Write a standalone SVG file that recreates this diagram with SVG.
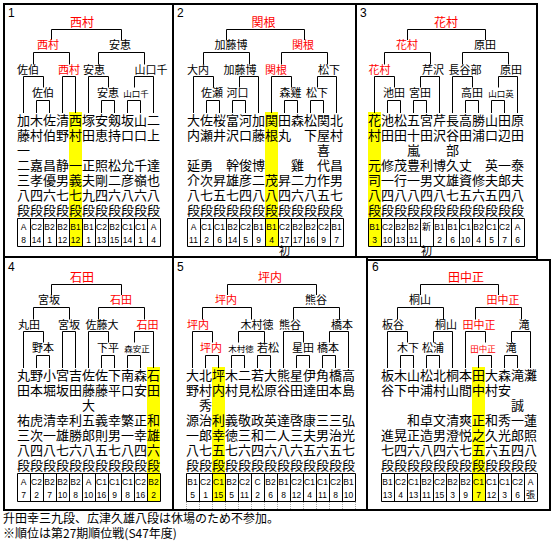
<svg xmlns="http://www.w3.org/2000/svg" width="555" height="541" viewBox="0 0 555 541">
<style>
text{font-family:"Noto Sans CJK JP","Noto Sans CJK SC",sans-serif}
.fr{fill:none;stroke:#000;stroke-width:2}
.ln{fill:none;stroke:#000;stroke-width:1}
.lb{font-size:11px;text-anchor:middle}
.tp{font-size:12px}
.sm{font-size:8.5px}
.r{fill:#f00}
.nm{font-size:13px;text-anchor:middle}
.bx{fill:none;stroke:#000;stroke-width:1}
.cl{font-family:"Liberation Sans",Arial,sans-serif;font-size:8.5px;text-anchor:middle}
.hl{fill:#ff0}
.no{font-family:"Liberation Sans",Arial,sans-serif;font-size:12px}
.nt{font-size:12px}
.sh{font-size:11px;text-anchor:middle}
.dt{stroke:#aaa;stroke-width:1;stroke-dasharray:1 1;fill:none}
</style>
<rect width="555" height="541" fill="#fff"/>

<g id="frames">
<path class="fr" d="M3,4H538M3,257H538M4,3V258M173,3V510M356,3V258M537,3V259M3,510H551M4,257V511M367,257V511M366,260H551M550,259V511"/>
</g>

<g id="panel1">
<text class="no" x="8" y="17">1</text>
<rect class="hl" x="69" y="112" width="13" height="135"/>
<g id="p1-connectors" class="ln">
<path d="M51.5,40V29.5H121.5V40M33.5,64.5V52.5H69.5V64.5M98.5,64.5V52.5H144.5V64.5M23.5,113V76.5H43.5V87.5M62.5,113V76.5H75.5V113M88.5,113V76.5H108.5V87.5M134.5,87.5V76.5H153.5V113M36.5,113V100.5H49.5V113M101.5,113V100.5H114.5V113M127.5,113V100.5H140.5V113"/>
</g>
<text class="lb tp r" x="82" y="27">西村</text>
<text class="lb r" x="48" y="48.5">西村</text>
<text class="lb" x="120" y="48.5">安恵</text>
<text class="lb" x="28" y="73.5">佐伯</text>
<text class="lb r" x="69" y="73.5">西村</text>
<text class="lb" x="94" y="73.5">安恵</text>
<text class="lb" x="151" y="73.5">山口千</text>
<text class="lb" x="43" y="97">佐伯</text>
<text class="lb" x="108" y="97">安恵</text>
<text class="lb sm" x="136" y="97">山口千</text>
<text class="nm" x="23.5 36.5 49.5 62.5 75.5 88.5 101.5 114.5 127.5 140.5 153.5" y="124.5">加木佐清西塚安剱坂山二</text>
<text class="nm" x="23.5 36.5 49.5 62.5 75.5 88.5 101.5 114.5 127.5 140.5 153.5" y="139.5">藤村伯野村田恵持口口上</text>
<text class="nm" x="23.5" y="154.5">一</text>
<text class="nm" x="23.5 36.5 49.5 62.5 75.5 88.5 101.5 114.5 127.5 140.5 153.5" y="169.5">二嘉昌静一正照松允千達</text>
<text class="nm" x="23.5 36.5 49.5 62.5 75.5 88.5 101.5 114.5 127.5 140.5 153.5" y="184.5">三孝優男義夫剛二彦嶺也</text>
<text class="nm" x="23.5 36.5 49.5 62.5 75.5 88.5 101.5 114.5 127.5 140.5 153.5" y="199.5">八四六七七九四六八六八</text>
<text class="nm" x="23.5 36.5 49.5 62.5 75.5 88.5 101.5 114.5 127.5 140.5 153.5" y="214.5">段段段段段段段段段段段</text>
<path class="bx" d="M17.5,218.5H160.5V246.5H17.5ZM30.5,218.5V246.5M43.5,218.5V246.5M56.5,218.5V246.5M69.5,218.5V246.5M82.5,218.5V246.5M95.5,218.5V246.5M108.5,218.5V246.5M121.5,218.5V246.5M134.5,218.5V246.5M147.5,218.5V246.5"/>
<text class="cl" y="229.5"><tspan x="23.5">A</tspan><tspan x="36.5">C2</tspan><tspan x="49.5">B2</tspan><tspan x="62.5">B2</tspan><tspan x="75.5">B1</tspan><tspan x="88.5">B1</tspan><tspan x="101.5">C2</tspan><tspan x="114.5">B2</tspan><tspan x="127.5">C1</tspan><tspan x="140.5">C1</tspan><tspan x="153.5">A</tspan></text>
<text class="cl" y="242.5"><tspan x="23.5">8</tspan><tspan x="36.5">14</tspan><tspan x="49.5">1</tspan><tspan x="62.5">12</tspan><tspan x="75.5">12</tspan><tspan x="88.5">1</tspan><tspan x="101.5">13</tspan><tspan x="114.5">15</tspan><tspan x="127.5">14</tspan><tspan x="140.5">1</tspan><tspan x="153.5">4</tspan></text>
</g>

<g id="panel2">
<text class="no" x="177" y="17">2</text>
<rect class="hl" x="265" y="112" width="13" height="135"/>
<g id="p2-connectors" class="ln">
<path d="M226.5,40V29.5H304.5V40M203.5,64.5V52.5H249.5V64.5M281.5,64.5V52.5H327.5V64.5M193.5,113V76.5H213.5V87.5M239.5,87.5V76.5H258.5V113M271.5,113V76.5H291.5V87.5M317.5,87.5V76.5H336.5V113M206.5,113V100.5H219.5V113M232.5,113V100.5H245.5V113M284.5,113V100.5H297.5V113M310.5,113V100.5H323.5V113"/>
</g>
<text class="lb tp r" x="263.5" y="27">関根</text>
<text class="lb" x="231" y="48.5">加藤博</text>
<text class="lb r" x="303" y="48.5">関根</text>
<text class="lb" x="198" y="73.5">大内</text>
<text class="lb" x="240" y="73.5">加藤博</text>
<text class="lb r" x="276" y="73.5">関根</text>
<text class="lb" x="329" y="73.5">松下</text>
<text class="lb" x="212" y="97">佐瀬</text>
<text class="lb" x="237.5" y="97">河口</text>
<text class="lb" x="290.5" y="97">森雞</text>
<text class="lb" x="317" y="97">松下</text>
<text class="nm" x="193.5 206.5 219.5 232.5 245.5 258.5 271.5 284.5 297.5 310.5 323.5 336.5" y="124.5">大佐桜富河加関田森松関北</text>
<text class="nm" x="193.5 206.5 219.5 232.5 245.5 258.5 271.5 284.5 297.5 310.5 323.5 336.5" y="139.5">内瀬井沢口藤根丸　下屋村</text>
<text class="nm" x="323.5" y="154.5">喜</text>
<text class="nm" x="193.5 206.5 219.5 232.5 245.5 258.5 271.5 284.5 297.5 310.5 323.5 336.5" y="169.5">延勇　幹俊博　　雞　代昌</text>
<text class="nm" x="193.5 206.5 219.5 232.5 245.5 258.5 271.5 284.5 297.5 310.5 323.5 336.5" y="184.5">介次昇雄彦二茂昇二力作男</text>
<text class="nm" x="193.5 206.5 219.5 232.5 245.5 258.5 271.5 284.5 297.5 310.5 323.5 336.5" y="199.5">八七五七四八八四六八五七</text>
<text class="nm" x="193.5 206.5 219.5 232.5 245.5 258.5 271.5 284.5 297.5 310.5 323.5 336.5" y="214.5">段段段段段段段段段段段段</text>
<path class="bx" d="M187.5,218.5H343.5V246.5H187.5ZM200.5,218.5V246.5M213.5,218.5V246.5M226.5,218.5V246.5M239.5,218.5V246.5M252.5,218.5V246.5M265.5,218.5V246.5M278.5,218.5V246.5M291.5,218.5V246.5M304.5,218.5V246.5M317.5,218.5V246.5M330.5,218.5V246.5"/>
<text class="cl" y="229.5"><tspan x="193.5">A</tspan><tspan x="206.5">C1</tspan><tspan x="219.5">C1</tspan><tspan x="232.5">B2</tspan><tspan x="245.5">C2</tspan><tspan x="258.5">B1</tspan><tspan x="271.5">B1</tspan><tspan x="284.5">C2</tspan><tspan x="297.5">B2</tspan><tspan x="310.5">B2</tspan><tspan x="323.5">C2</tspan><tspan x="336.5">B1</tspan></text>
<text class="cl" y="242.5"><tspan x="193.5">11</tspan><tspan x="206.5">2</tspan><tspan x="219.5">6</tspan><tspan x="232.5">14</tspan><tspan x="245.5">5</tspan><tspan x="258.5">9</tspan><tspan x="271.5">4</tspan><tspan x="284.5">17</tspan><tspan x="297.5">17</tspan><tspan x="310.5">16</tspan><tspan x="323.5">9</tspan><tspan x="336.5">7</tspan></text>
<text class="sh" x="284.5" y="254.5">初</text>
</g>

<g id="panel3">
<text class="no" x="360" y="17">3</text>
<rect class="hl" x="368" y="112" width="13" height="135"/>
<g id="p3-connectors" class="ln">
<path d="M407.5,40V29.5H485.5V40M384.5,64.5V52.5H430.5V64.5M462.5,64.5V52.5H508.5V64.5M374.5,113V76.5H394.5V87.5M420.5,87.5V76.5H439.5V113M452.5,113V76.5H472.5V87.5M498.5,87.5V76.5H517.5V113M387.5,113V100.5H400.5V113M413.5,113V100.5H426.5V113M465.5,113V100.5H478.5V113M491.5,113V100.5H504.5V113"/>
</g>
<text class="lb tp r" x="446" y="27">花村</text>
<text class="lb r" x="407" y="48.5">花村</text>
<text class="lb" x="485" y="48.5">原田</text>
<text class="lb r" x="379.5" y="73.5">花村</text>
<text class="lb" x="433" y="73.5">芹沢</text>
<text class="lb" x="465" y="73.5">長谷部</text>
<text class="lb" x="511" y="73.5">原田</text>
<text class="lb" x="394" y="97">池田</text>
<text class="lb" x="420" y="97">宮田</text>
<text class="lb" x="472" y="97">高田</text>
<text class="lb sm" x="501" y="97">山口英</text>
<text class="nm" x="374.5 387.5 400.5 413.5 426.5 439.5 452.5 465.5 478.5 491.5 504.5 517.5" y="124.5">花池松五宮芹長高勝山田原</text>
<text class="nm" x="374.5 387.5 400.5 413.5 426.5 439.5 452.5 465.5 478.5 491.5 504.5 517.5" y="139.5">村田田十田沢谷田浦口辺田</text>
<text class="nm" x="413.5 452.5" y="154.5">嵐部</text>
<text class="nm" x="374.5 387.5 400.5 413.5 426.5 439.5 452.5 465.5 478.5 491.5 504.5 517.5" y="169.5">元修茂豊利博久丈　英一泰</text>
<text class="nm" x="374.5 387.5 400.5 413.5 426.5 439.5 452.5 465.5 478.5 491.5 504.5 517.5" y="184.5">司一行一男文雄資修夫郎夫</text>
<text class="nm" x="374.5 387.5 400.5 413.5 426.5 439.5 452.5 465.5 478.5 491.5 504.5 517.5" y="199.5">八四八八四八七五六五四八</text>
<text class="nm" x="374.5 387.5 400.5 413.5 426.5 439.5 452.5 465.5 478.5 491.5 504.5 517.5" y="214.5">段段段段段段段段段段段段</text>
<path class="bx" d="M368.5,218.5H524.5V246.5H368.5ZM381.5,218.5V246.5M394.5,218.5V246.5M407.5,218.5V246.5M420.5,218.5V246.5M433.5,218.5V246.5M446.5,218.5V246.5M459.5,218.5V246.5M472.5,218.5V246.5M485.5,218.5V246.5M498.5,218.5V246.5M511.5,218.5V246.5"/>
<text class="cl" y="229.5"><tspan x="374.5">B1</tspan><tspan x="387.5">C2</tspan><tspan x="400.5">B2</tspan><tspan x="413.5">B2</tspan><tspan x="439.5">B1</tspan><tspan x="452.5">B1</tspan><tspan x="465.5">C1</tspan><tspan x="478.5">B2</tspan><tspan x="491.5">C1</tspan><tspan x="504.5">C2</tspan><tspan x="517.5">A</tspan></text>
<text class="sh" x="426.5" y="230" style="font-size:9px">新</text>
<text class="cl" y="242.5"><tspan x="374.5">3</tspan><tspan x="387.5">10</tspan><tspan x="400.5">13</tspan><tspan x="413.5">11</tspan><tspan x="439.5">2</tspan><tspan x="452.5">6</tspan><tspan x="465.5">10</tspan><tspan x="478.5">4</tspan><tspan x="491.5">5</tspan><tspan x="504.5">7</tspan><tspan x="517.5">6</tspan></text>
<text class="sh" x="426.5" y="254.5">初</text>
</g>

<g id="panel4">
<text class="no" x="8" y="271">4</text>
<rect class="hl" x="147" y="367" width="13" height="135"/>
<g id="p4-connectors" class="ln">
<path d="M51.5,295V284.5H121.5V295M33.5,319.5V307.5H69.5V319.5M98.5,319.5V307.5H144.5V319.5M23.5,368V331.5H43.5V342.5M62.5,368V331.5H75.5V368M88.5,368V331.5H108.5V342.5M134.5,342.5V331.5H153.5V368M36.5,368V355.5H49.5V368M101.5,368V355.5H114.5V368M127.5,368V355.5H140.5V368"/>
</g>
<text class="lb tp r" x="82" y="282">石田</text>
<text class="lb" x="49" y="303.5">宮坂</text>
<text class="lb r" x="121" y="303.5">石田</text>
<text class="lb" x="29" y="328.5">丸田</text>
<text class="lb" x="69" y="328.5">宮坂</text>
<text class="lb" x="102" y="328.5">佐藤大</text>
<text class="lb r" x="147.5" y="328.5">石田</text>
<text class="lb" x="43" y="352">野本</text>
<text class="lb" x="108" y="352">下平</text>
<text class="lb sm" x="137" y="352">森安正</text>
<text class="nm" x="23.5 36.5 49.5 62.5 75.5 88.5 101.5 114.5 127.5 140.5 153.5" y="379.5">丸野小宮吉佐佐下南森石</text>
<text class="nm" x="23.5 36.5 49.5 62.5 75.5 88.5 101.5 114.5 127.5 140.5 153.5" y="394.5">田本堀坂田藤藤平口安田</text>
<text class="nm" x="88.5" y="409.5">大</text>
<text class="nm" x="23.5 36.5 49.5 62.5 75.5 88.5 101.5 114.5 127.5 140.5 153.5" y="424.5">祐虎清幸利五義幸繁正和</text>
<text class="nm" x="23.5 36.5 49.5 62.5 75.5 88.5 101.5 114.5 127.5 140.5 153.5" y="439.5">三次一雄勝郎則男一幸雄</text>
<text class="nm" x="23.5 36.5 49.5 62.5 75.5 88.5 101.5 114.5 127.5 140.5 153.5" y="454.5">八四八七六八五七八四六</text>
<text class="nm" x="23.5 36.5 49.5 62.5 75.5 88.5 101.5 114.5 127.5 140.5 153.5" y="469.5">段段段段段段段段段段段</text>
<path class="bx" d="M17.5,473.5H160.5V501.5H17.5ZM30.5,473.5V501.5M43.5,473.5V501.5M56.5,473.5V501.5M69.5,473.5V501.5M82.5,473.5V501.5M95.5,473.5V501.5M108.5,473.5V501.5M121.5,473.5V501.5M134.5,473.5V501.5M147.5,473.5V501.5"/>
<text class="cl" y="484.5"><tspan x="23.5">A</tspan><tspan x="36.5">C2</tspan><tspan x="49.5">B2</tspan><tspan x="62.5">B2</tspan><tspan x="75.5">B2</tspan><tspan x="88.5">A</tspan><tspan x="101.5">C1</tspan><tspan x="114.5">C1</tspan><tspan x="127.5">C1</tspan><tspan x="140.5">C2</tspan><tspan x="153.5">B2</tspan></text>
<text class="cl" y="497.5"><tspan x="23.5">7</tspan><tspan x="36.5">2</tspan><tspan x="49.5">7</tspan><tspan x="62.5">10</tspan><tspan x="75.5">8</tspan><tspan x="88.5">10</tspan><tspan x="101.5">16</tspan><tspan x="114.5">9</tspan><tspan x="127.5">8</tspan><tspan x="140.5">16</tspan><tspan x="153.5">2</tspan></text>
</g>

<g id="panel5">
<text class="no" x="177" y="271">5</text>
<rect class="hl" x="212" y="367" width="13" height="135"/>
<g id="p5-connectors" class="ln">
<path d="M227.5,295V284.5H316.5V295M202.5,319.5V307.5H251.5V319.5M293.5,319.5V307.5H339.5V319.5M192.5,368V331.5H212.5V342.5M238.5,342.5V331.5H264.5V342.5M283.5,368V331.5H303.5V342.5M329.5,342.5V331.5H348.5V368M205.5,368V355.5H218.5V368M231.5,368V355.5H244.5V368M257.5,368V355.5H270.5V368M296.5,368V355.5H309.5V368M322.5,368V355.5H335.5V368"/>
</g>
<text class="lb tp r" x="270" y="282">坪内</text>
<text class="lb r" x="226" y="303.5">坪内</text>
<text class="lb" x="316" y="303.5">熊谷</text>
<text class="lb r" x="198" y="328.5">坪内</text>
<text class="lb" x="257" y="328.5">木村徳</text>
<text class="lb" x="290" y="328.5">熊谷</text>
<text class="lb" x="342" y="328.5">橋本</text>
<text class="lb r" x="211" y="352">坪内</text>
<text class="lb sm" x="241" y="352">木村徳</text>
<text class="lb" x="268" y="352">若松</text>
<text class="lb" x="303" y="352">星田</text>
<text class="lb" x="328" y="352">橋本</text>
<text class="nm" x="192.5 205.5 218.5 231.5 244.5 257.5 270.5 283.5 296.5 309.5 322.5 335.5 348.5" y="379.5">大北坪木二若大熊星伊角橋高</text>
<text class="nm" x="192.5 205.5 218.5 231.5 244.5 257.5 270.5 283.5 296.5 309.5 322.5 335.5 348.5" y="394.5">野村内村見松原谷田達田本島</text>
<text class="nm" x="205.5" y="409.5">秀</text>
<text class="nm" x="192.5 205.5 218.5 231.5 244.5 257.5 270.5 283.5 296.5 309.5 322.5 335.5 348.5" y="424.5">源治利義敬政英達啓康三三弘</text>
<text class="nm" x="192.5 205.5 218.5 231.5 244.5 257.5 270.5 283.5 296.5 309.5 322.5 335.5 348.5" y="439.5">一郎幸徳三和二人三夫男治光</text>
<text class="nm" x="192.5 205.5 218.5 231.5 244.5 257.5 270.5 283.5 296.5 309.5 322.5 335.5 348.5" y="454.5">八七五七六四六八六五六五七</text>
<text class="nm" x="192.5 205.5 218.5 231.5 244.5 257.5 270.5 283.5 296.5 309.5 322.5 335.5 348.5" y="469.5">段段段段段段段段段段段段段</text>
<path class="bx" d="M186.5,473.5H355.5V501.5H186.5ZM199.5,473.5V501.5M212.5,473.5V501.5M225.5,473.5V501.5M238.5,473.5V501.5M251.5,473.5V501.5M264.5,473.5V501.5M277.5,473.5V501.5M290.5,473.5V501.5M303.5,473.5V501.5M316.5,473.5V501.5M329.5,473.5V501.5M342.5,473.5V501.5"/>
<path class="dt" d="M186.5,502V509M199.5,502V509M212.5,502V509M225.5,502V509M238.5,502V509M251.5,502V509M264.5,502V509M277.5,502V509M290.5,502V509M303.5,502V509M316.5,502V509M329.5,502V509M342.5,502V509M355.5,502V509"/>
<text class="cl" y="484.5"><tspan x="192.5">B1</tspan><tspan x="205.5">C2</tspan><tspan x="218.5">C1</tspan><tspan x="231.5">B2</tspan><tspan x="244.5">C2</tspan><tspan x="257.5">C</tspan><tspan x="270.5">B2</tspan><tspan x="283.5">B1</tspan><tspan x="296.5">C2</tspan><tspan x="309.5">C1</tspan><tspan x="322.5">C1</tspan><tspan x="335.5">C2</tspan><tspan x="348.5">B1</tspan></text>
<text class="cl" y="497.5"><tspan x="192.5">5</tspan><tspan x="205.5">1</tspan><tspan x="218.5">15</tspan><tspan x="231.5">5</tspan><tspan x="244.5">11</tspan><tspan x="257.5">2</tspan><tspan x="270.5">6</tspan><tspan x="283.5">8</tspan><tspan x="296.5">12</tspan><tspan x="309.5">4</tspan><tspan x="322.5">11</tspan><tspan x="335.5">8</tspan><tspan x="348.5">10</tspan></text>
</g>

<g id="panel6">
<text class="no" x="372" y="271">6</text>
<rect class="hl" x="472" y="367" width="13" height="135"/>
<g id="p6-connectors" class="ln">
<path d="M420.5,295V284.5H498.5V295M397.5,319.5V307.5H443.5V319.5M475.5,319.5V307.5H521.5V319.5M387.5,368V331.5H407.5V342.5M433.5,342.5V331.5H452.5V368M465.5,368V331.5H485.5V342.5M511.5,342.5V331.5H530.5V368M400.5,368V355.5H413.5V368M426.5,368V355.5H439.5V368M478.5,368V355.5H491.5V368M504.5,368V355.5H517.5V368"/>
</g>
<text class="lb tp r" x="466" y="282">田中正</text>
<text class="lb" x="420" y="303.5">桐山</text>
<text class="lb r" x="503" y="303.5">田中正</text>
<text class="lb" x="393" y="328.5">板谷</text>
<text class="lb" x="446" y="328.5">桐山</text>
<text class="lb r" x="479" y="328.5">田中正</text>
<text class="lb" x="524" y="328.5">滝</text>
<text class="lb" x="408" y="352">木下</text>
<text class="lb" x="433" y="352">松浦</text>
<text class="lb sm r" x="483" y="352">田中正</text>
<text class="lb" x="511" y="352">滝</text>
<text class="nm" x="387.5 400.5 413.5 426.5 439.5 452.5 465.5 478.5 491.5 504.5 517.5 530.5" y="379.5">板木山松北桐本田大森滝灘</text>
<text class="nm" x="387.5 400.5 413.5 426.5 439.5 452.5 465.5 478.5 491.5 504.5" y="394.5">谷下中浦村山間中村安</text>
<text class="nm" x="517.5" y="409.5">誠</text>
<text class="nm" x="413.5 426.5 439.5 452.5 465.5 478.5 491.5 504.5 517.5 530.5" y="424.5">和卓文清爽正和秀一蓮</text>
<text class="nm" x="387.5 400.5 413.5 426.5 439.5 452.5 465.5 478.5 491.5 504.5 517.5 530.5" y="439.5">進晃正造男澄悦之久光郎照</text>
<text class="nm" x="387.5 400.5 413.5 426.5 439.5 452.5 465.5 478.5 491.5 504.5 517.5 530.5" y="454.5">七四六八四六七五六五四八</text>
<text class="nm" x="387.5 400.5 413.5 426.5 439.5 452.5 465.5 478.5 491.5 504.5 517.5 530.5" y="469.5">段段段段段段段段段段段段</text>
<path class="bx" d="M381.5,473.5H537.5V501.5H381.5ZM394.5,473.5V501.5M407.5,473.5V501.5M420.5,473.5V501.5M433.5,473.5V501.5M446.5,473.5V501.5M459.5,473.5V501.5M472.5,473.5V501.5M485.5,473.5V501.5M498.5,473.5V501.5M511.5,473.5V501.5M524.5,473.5V501.5"/>
<text class="cl" y="484.5"><tspan x="387.5">B1</tspan><tspan x="400.5">C2</tspan><tspan x="413.5">C1</tspan><tspan x="426.5">B2</tspan><tspan x="439.5">C2</tspan><tspan x="452.5">B2</tspan><tspan x="465.5">B2</tspan><tspan x="478.5">C1</tspan><tspan x="491.5">C1</tspan><tspan x="504.5">C1</tspan><tspan x="517.5">C2</tspan><tspan x="530.5">A</tspan></text>
<text class="cl" y="497.5"><tspan x="387.5">13</tspan><tspan x="400.5">4</tspan><tspan x="413.5">13</tspan><tspan x="426.5">11</tspan><tspan x="439.5">15</tspan><tspan x="452.5">3</tspan><tspan x="465.5">9</tspan><tspan x="478.5">7</tspan><tspan x="491.5">12</tspan><tspan x="504.5">3</tspan><tspan x="517.5">6</tspan></text>
<text class="sh" x="530.5" y="498" style="font-size:9px">張</text>
</g>

<g id="notes">
<text class="nt" x="3" y="523">升田幸三九段、広津久雄八段は休場のため不参加。</text>
<text class="nt" x="3" y="538">※順位は第27期順位戦(S47年度)</text>
</g>
</svg>
